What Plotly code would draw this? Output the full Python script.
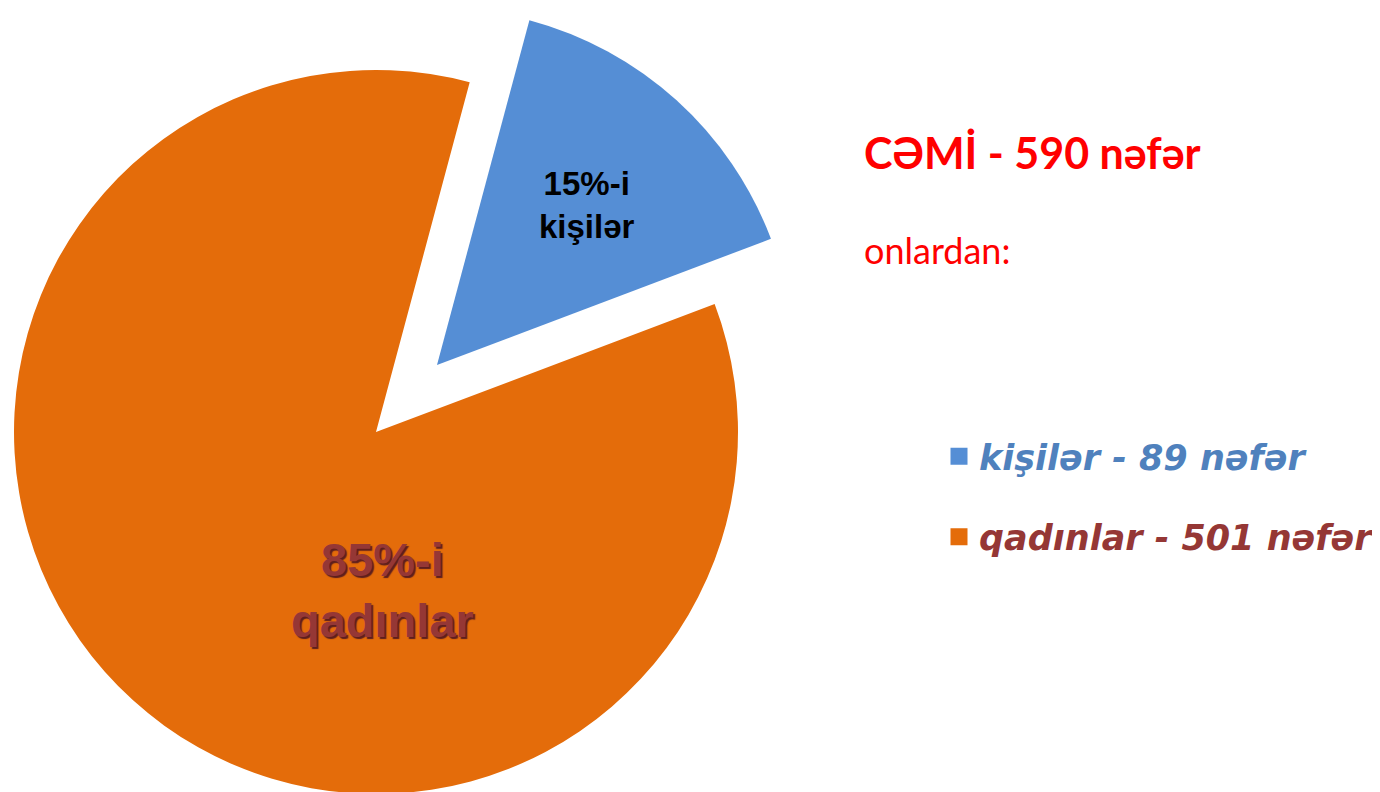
import plotly.graph_objects as go

# ---- data ----
categories = ["kişilər", "qadınlar"]
counts = [89, 501]
percents = [15, 85]
slice_colors = ["#558ed5", "#e46c0a"]
legend_text_colors = ["#4f81bd", "#953735"]
total = sum(counts)
title_text = f"CƏMİ - {total} nəfər"
subtitle_text = "onlardan:"

W, H = 1380, 792
OFF = 8  # page body margin
TRANSPARENT = "rgba(0,0,0,0)"


def px(x, y):
    """page pixel -> paper coords"""
    return (x - OFF) / W, 1 - (y - OFF) / H


def dom(cx, cy, r):
    cx -= OFF
    cy -= OFF
    return dict(x=[(cx - r) / W, (cx + r) / W],
                y=[max(0, (H - (cy + r)) / H), min(1, (H - (cy - r)) / H)])


fig = go.Figure()

# legend-only tiny pies (hidden under the orange disc)
for i, cat in enumerate(categories):
    fig.add_trace(go.Pie(
        labels=[f"<span style='color:{legend_text_colors[i]}'><b><i>{cat} - {counts[i]} nəfər</i></b></span>"],
        values=[counts[i]],
        marker=dict(colors=[slice_colors[i]], line=dict(color=[slice_colors[i]], width=5)),
        domain=dict(x=[0.18, 0.1805], y=[0.3, 0.3005]),
        textinfo="none", hoverinfo="skip", sort=False,
        legendgroup=f"g{i}", showlegend=True,
    ))

legend_labels = [f"<span style='color:{legend_text_colors[i]}'><b><i>{c} - {counts[i]} nəfər</i></b></span>"
                 for i, c in enumerate(categories)]

# main (orange) slice
fig.add_trace(go.Pie(
    labels=legend_labels, values=counts,
    marker=dict(colors=[TRANSPARENT, slice_colors[1]], line=dict(width=0)),
    rotation=15, direction="clockwise", sort=False,
    textinfo="none", hoverinfo="skip", showlegend=False,
    domain=dom(376, 432, 362),
))
# pulled-out (blue) slice
fig.add_trace(go.Pie(
    labels=legend_labels, values=counts,
    marker=dict(colors=[slice_colors[0], TRANSPARENT], line=dict(width=0)),
    rotation=15, direction="clockwise", sort=False,
    textinfo="none", hoverinfo="skip", showlegend=False,
    domain=dom(437, 365, 357),
))

x1, y1 = px(587, 205)
x2, y2 = px(382, 590)
x3, y3 = px(862, 152)
x4, y4 = px(862, 250)
lx, ly = px(959 - 20, 427)

annotations = [
    dict(text=f"<b>{percents[0]}%-i<br>{categories[0]}</b>", x=x1, y=y1,
         xref="paper", yref="paper", showarrow=False, xanchor="center", yanchor="middle",
         font=dict(family="Liberation Sans, Arial", size=33, color="#000000")),
    dict(text=f"<b>{percents[1]}%-i<br>{categories[1]}</b>", x=x2, y=y2,
         xref="paper", yref="paper", showarrow=False, xanchor="center", yanchor="middle",
         font=dict(family="Liberation Sans, Arial", size=47, color="#953735",
                   shadow="2px 2px 1px #5e1f1d")),
    dict(text=f"<b>{title_text}</b>", x=x3, y=y3,
         xref="paper", yref="paper", showarrow=False, xanchor="left", yanchor="middle",
         font=dict(family="Lato, Noto Sans", size=43, color="#ff0000")),
    dict(text=subtitle_text, x=x4, y=y4,
         xref="paper", yref="paper", showarrow=False, xanchor="left", yanchor="middle",
         font=dict(family="Lato, Noto Sans", size=36, color="#ff0000")),
]

fig.update_layout(
    width=W, height=H,
    margin=dict(l=0, r=0, t=0, b=0),
    paper_bgcolor="white", plot_bgcolor="white",
    annotations=annotations,
    showlegend=True,
    legend=dict(x=lx, y=ly, xanchor="left", yanchor="top",
                bgcolor=TRANSPARENT, tracegroupgap=32,
                font=dict(family="DejaVu Sans", size=35)),
)

fig.write_html("out.html")
